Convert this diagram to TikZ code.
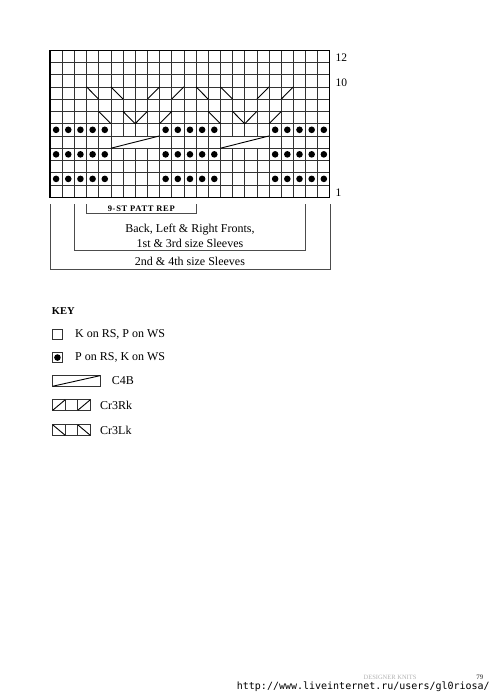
\documentclass[tikz,border=0pt]{standalone}
\usepackage{fontspec}
\setmainfont{Liberation Serif}
\newfontfamily\urlfont{DejaVu Sans Mono}
\newfontfamily\repfont[LetterSpace=8]{Liberation Serif}
\usetikzlibrary{positioning}

\begin{document}
\begin{tikzpicture}[
      x=12.17pt,y=12.27pt,
      gridline/.style={black!80,line width=0.65pt},
      border/.style={black,line width=1.1pt},
      cross/.style={black,line width=0.9pt},
      purl/.style={fill=black},
      bracket/.style={black!70,line width=0.6pt},
      lbl/.style={font=\fontsize{12}{15}\selectfont,align=center,inner sep=0pt},
      rowlbl/.style={font=\fontsize{11.5}{13}\selectfont,anchor=base west,inner sep=0pt},
      keytxt/.style={font=\fontsize{12}{14}\selectfont,anchor=west,inner sep=0pt}
    ]
    \useasboundingbox (-4.11,-40.89) rectangle (36.48,16.08);
    % chart
    \foreach \r in {1,...,11} {
      \draw[gridline] (0,\r) -- (23,\r);
    }
    \foreach \c in {1,...,22} {
      \draw[gridline] (\c,0) -- (\c,12);
    }
    \foreach \o in {0,9} {
      % C4B, one wide cell
      \fill[white] (5.06+\o,4.05) rectangle (8.94+\o,4.95);
      \draw[cross] (5+\o,4) -- (9+\o,5);
      % row 7
      \draw[cross] (4+\o,7) -- (5+\o,6);
      \draw[cross] (6+\o,7) -- (7+\o,6);
      \draw[cross] (7+\o,6) -- (8+\o,7);
      \draw[cross] (9+\o,6) -- (10+\o,7);
      % row 9
      \draw[cross] (3+\o,9) -- (4+\o,8);
      \draw[cross] (5+\o,9) -- (6+\o,8);
      \draw[cross] (8+\o,8) -- (9+\o,9);
      \draw[cross] (10+\o,8) -- (11+\o,9);
    }
    \foreach \r in {1.5,3.5,5.5} {
      \foreach \o in {0,9,18} {
        \foreach \c in {1,...,5} {
          \fill[purl] (\c+\o-0.5,\r) circle (0.27);
        }
      }
    }
    \draw[border] (0,0) rectangle (23,12);
    \node[rowlbl] (r12) at (23.45,11.05) {12};
    \node[rowlbl] (r10) at (23.45,9.05) {10};
    \node[rowlbl] (r1) at (23.45,0.05) {1};
    % brackets
    \draw[bracket] (3,-0.55) -- (3,-1.3) -- (12,-1.3) -- (12,-0.55);
    \node[inner sep=0pt,font={\repfont\bfseries\fontsize{8.5}{10}\selectfont}]
    (rep) at (7.5,-0.93) {9-ST PATT REP};
    \draw[bracket] (2,-0.55) -- (2,-4.3) -- (21,-4.3) -- (21,-0.55);
    \node[lbl] (fronts) at (11.5,-3.11)
    {Back, Left \& Right Fronts,\\1st \& 3rd size Sleeves};
    \draw[bracket] (0,-0.55) -- (0,-5.84) -- (23,-5.84) -- (23,-0.55);
    \node[lbl] (sleeves) at (11.5,-5.19) {2nd \& 4th size Sleeves};
    % key
    \node[anchor=west,inner sep=0pt,font=\bfseries\fontsize{10.5}{12}\selectfont]
    (key) at (0.14,-9.27) {KEY};
    \draw[gridline] (0.22,-11.55) rectangle (1.0,-10.73);
    \node[keytxt] (knit) at (2.05,-11.14) {K on RS, P on WS};
    \draw[gridline] (0.22,-13.47) rectangle (1.0,-12.65);
    \fill[purl] (0.61,-13.06) circle (0.27);
    \node[keytxt] (purltxt) at (2.05,-13.06) {P on RS, K on WS};
    \draw[gridline] (0.22,-15.4) rectangle (4.1,-14.54);
    \draw[cross] (0.22,-15.4) -- (4.1,-14.54);
    \node[keytxt] (cfb) at (5.07,-14.97) {C4B};
    \foreach \k in {0,1,2} {
      \draw[gridline] (0.22+1.03*\k,-17.36) rectangle +(1.03,0.86);
      \draw[gridline] (0.22+1.03*\k,-19.4) rectangle +(1.03,0.86);
    }
    \draw[cross] (0.22,-17.36) -- (1.25,-16.5);
    \draw[cross] (2.28,-17.36) -- (3.31,-16.5);
    \node[keytxt] (crrk) at (4.11,-16.93) {Cr3Rk};
    \draw[cross] (0.22,-18.54) -- (1.25,-19.4);
    \draw[cross] (2.28,-18.54) -- (3.31,-19.4);
    \node[keytxt] (crlk) at (4.11,-18.97) {Cr3Lk};
    % footer
    \node[text=black!30,inner sep=0pt,font=\fontsize{6.5}{8}\selectfont]
    (book) at (27.94,-39.12) {DESIGNER KNITS};
    \node[text=black!60,inner sep=0pt,font=\bfseries\fontsize{7}{8}\selectfont]
    (page) at (35.33,-39.08) {79};
    \node[anchor=west,inner sep=0pt,font={\urlfont\fontsize{10}{12}\selectfont}]
    (url) at (15.34,-39.89) {http://www.liveinternet.ru/users/gl0riosa/};
  \end{tikzpicture}
\end{document}
